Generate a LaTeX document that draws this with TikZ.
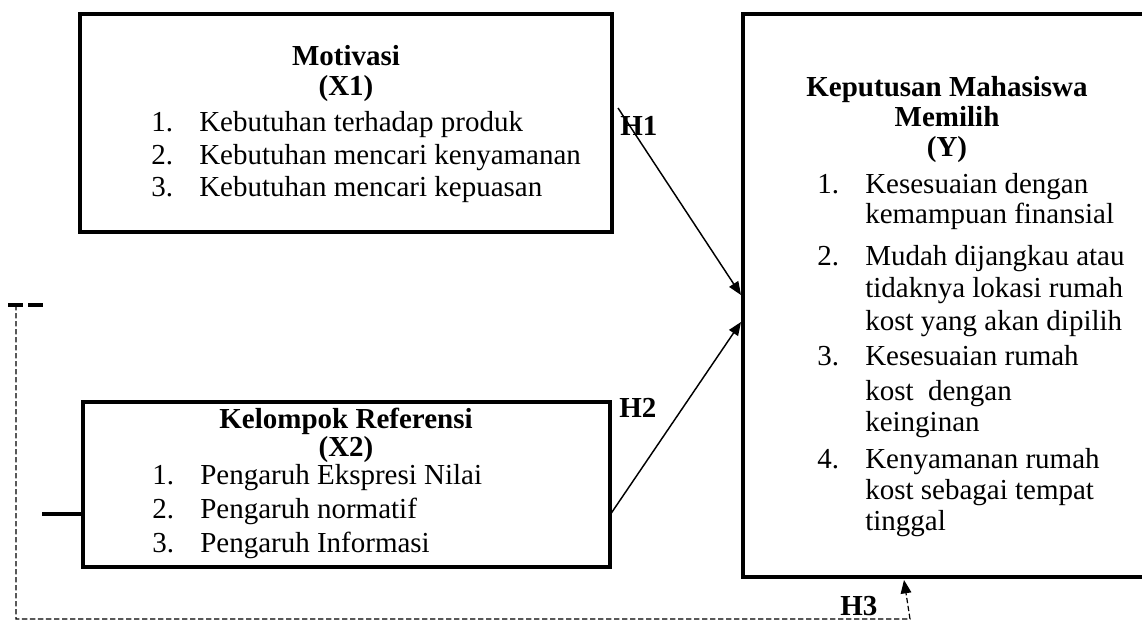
\documentclass[tikz,border=0pt]{standalone}
\usepackage{fontspec}
\setmainfont{Liberation Serif}
\usetikzlibrary{arrows.meta,fit}
\newcommand{\diafs}{\fontsize{21.75pt}{26pt}\selectfont}
\begin{document}
\begin{tikzpicture}[x=0.75pt,y=-0.75pt,
  boxst/.style={draw, line width=3.4pt, inner sep=0pt},
  ttl/.style={font=\bfseries\diafs, anchor=base, inner sep=0pt},
  txt/.style={font=\diafs, anchor=base west, inner sep=0pt},
  hlab/.style={font=\bfseries\diafs, anchor=base west, inner sep=0pt},
  arr/.style={line width=1.1pt, -{Triangle[length=10pt,width=8pt]}},
  dsh/.style={line width=0.9pt, dash pattern=on 4pt off 2pt}]
\useasboundingbox (0,0) rectangle (1142,626);
\clip (0,0) rectangle (1142,626);

% boxes
\node[boxst, fit={(80,14) (612,232)}] (x1) {};
\node[boxst, fit={(83,402) (610,567)}] (x2) {};
\node[boxst, fit={(743,14) (1149,577)}] (y) {};

% X1 text
\node[ttl] (x1t1) at (346,65) {Motivasi};
\node[ttl] (x1t2) at (346,95) {(X1)};
\node[txt] (x1n1) at (151,131) {1.};
\node[txt] (x1i1) at (199,131) {Kebutuhan terhadap produk};
\node[txt] (x1n2) at (151,164) {2.};
\node[txt] (x1i2) at (199,164) {Kebutuhan mencari kenyamanan};
\node[txt] (x1n3) at (151,196) {3.};
\node[txt] (x1i3) at (199,196) {Kebutuhan mencari kepuasan};

% X2 text
\node[ttl] (x2t1) at (346,428) {Kelompok Referensi};
\node[ttl] (x2t2) at (346,456) {(X2)};
\node[txt] (x2n1) at (152,484) {1.};
\node[txt] (x2i1) at (200,484) {Pengaruh Ekspresi Nilai};
\node[txt] (x2n2) at (152,518) {2.};
\node[txt] (x2i2) at (200,518) {Pengaruh normatif};
\node[txt] (x2n3) at (152,552) {3.};
\node[txt] (x2i3) at (200,552) {Pengaruh Informasi};

% Y text
\node[ttl] (yt1) at (947,96) {Keputusan Mahasiswa};
\node[ttl] (yt2) at (947,126) {Memilih};
\node[ttl] (yt3) at (947,156) {(Y)};
\node[txt] (yn1) at (817,193) {1.};
\node[txt] (yi1a) at (865,193) {Kesesuaian dengan};
\node[txt] (yi1b) at (865,223) {kemampuan finansial};
\node[txt] (yn2) at (817,265) {2.};
\node[txt] (yi2a) at (865,265) {Mudah dijangkau atau};
\node[txt] (yi2b) at (865,297) {tidaknya lokasi rumah};
\node[txt] (yi2c) at (865,330) {kost yang akan dipilih};
\node[txt] (yn3) at (817,365) {3.};
\node[txt] (yi3a) at (865,365) {Kesesuaian rumah};
\node[txt] (yi3b) at (865,400) {kost\ \ dengan};
\node[txt] (yi3c) at (865,431) {keinginan};
\node[txt] (yn4) at (817,468) {4.};
\node[txt] (yi4a) at (865,468) {Kenyamanan rumah};
\node[txt] (yi4b) at (865,499) {kost sebagai tempat};
\node[txt] (yi4c) at (865,530) {tinggal};

% hypothesis labels
\node[hlab] (h1) at (620,135) {H1};
\node[hlab] (h2) at (619,417) {H2};
\node[hlab] (h3) at (840,615) {H3};

% arrows
\coordinate (h1s) at (618,108);
\coordinate (h1e) at (741,295);
\coordinate (h2s) at (610,515);
\coordinate (h2e) at (741,322);
\draw[arr] (h1s) -- (h1e);
\draw[arr] (h2s) -- (h2e);

% left stub
\coordinate (stub) at (42,514);
\draw[line width=2.3pt] (stub) -- (stub -| x2.west);

% top-left thick dashes
\coordinate (da) at (8,305);
\coordinate (db) at (47,305);
\draw[line width=3pt, dash pattern=on 11.25pt off 3.75pt] (da) -- (db);

% dashed H3 path
\coordinate (d1) at (16,305);
\coordinate (d2) at (16,619);
\coordinate (d3) at (910,619);
\coordinate (h3e) at (904,580);
\draw[dsh, -{Triangle[length=10pt,width=8pt]}] (d1) -- (d2) -- (d3) -- (h3e);
\end{tikzpicture}
\end{document}
